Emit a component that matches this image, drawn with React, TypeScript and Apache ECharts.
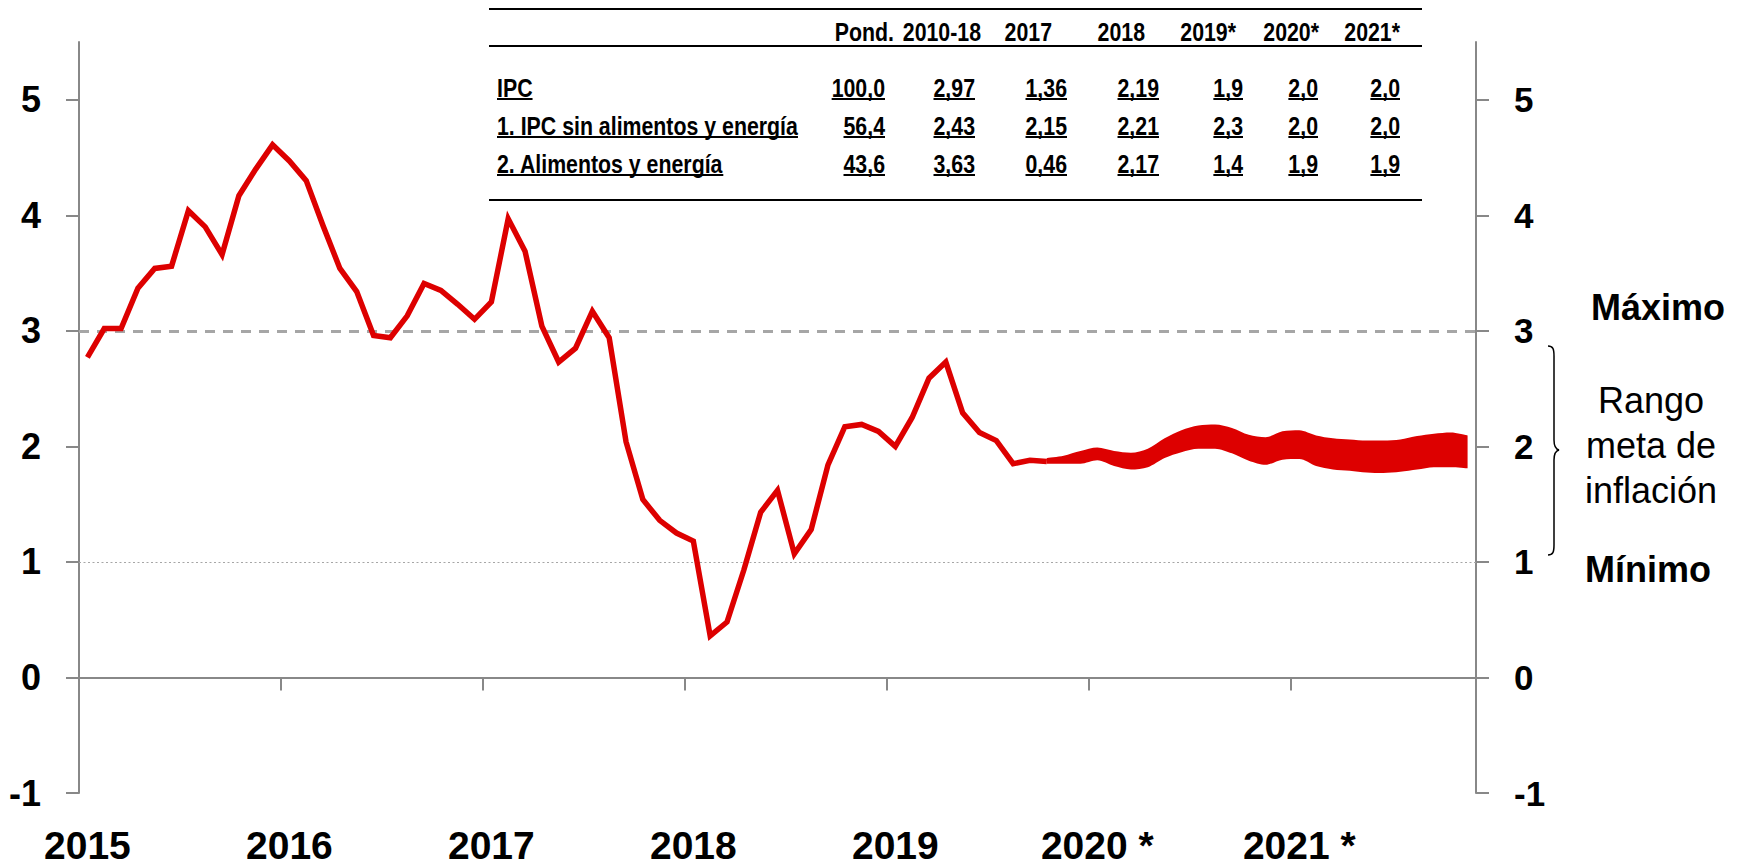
import { useEffect, useRef } from 'react';
import * as echarts from 'echarts';

const ARIAL = "'Liberation Sans', Arial, Helvetica, sans-serif";
const NARROW_SCALE = 0.82; // Arial Narrow ≈ Arial scaled horizontally

// ---------- data ----------
// monthly categories: Feb 2015 .. Dec 2021
const START_YEAR = 2015;
const START_MONTH = 2;
const N_MONTHS = 83;
const months: string[] = [];
for (let i = 0; i < N_MONTHS; i++) {
  const m = START_MONTH - 1 + i;
  months.push(`${START_YEAR + Math.floor(m / 12)}-${String((m % 12) + 1).padStart(2, '0')}`);
}

const yearLabels = ['2015', '2016', '2017', '2018', '2019', '2020 *', '2021 *'];

// IPC, 12-month % change, Feb 2015 .. Nov 2019
const ipcActual = [
  2.77, 3.02, 3.02, 3.37, 3.54, 3.56, 4.04, 3.90, 3.66, 4.17, 4.40,
  4.61, 4.47, 4.30, 3.91, 3.54, 3.34, 2.96, 2.94, 3.13, 3.41, 3.35, 3.23,
  3.10, 3.25, 3.97, 3.69, 3.04, 2.73, 2.85, 3.17, 2.94, 2.04, 1.54, 1.36,
  1.25, 1.18, 0.36, 0.48, 0.93, 1.43, 1.62, 1.07, 1.28, 1.84, 2.17, 2.19,
  2.13, 2.00, 2.25, 2.59, 2.73, 2.29, 2.12, 2.05, 1.85, 1.88, 1.87,
];

// forecast band, Nov 2019 .. Dec 2021
const bandUpper = [
  1.90, 1.92, 1.96, 1.99, 1.96, 1.945, 1.98, 2.07, 2.14, 2.18, 2.19, 2.16, 2.10, 2.08,
  2.13, 2.14, 2.095, 2.07, 2.06, 2.05, 2.05, 2.06, 2.09, 2.11, 2.12, 2.095,
];
const bandLower = [
  1.85, 1.85, 1.85, 1.88, 1.83, 1.80, 1.82, 1.90, 1.95, 1.98, 1.98, 1.94, 1.875, 1.84,
  1.885, 1.89, 1.83, 1.80, 1.79, 1.775, 1.77, 1.78, 1.80, 1.82, 1.82, 1.81,
];
const BAND_START = 57;

const yTickValues = [-1, 0, 1, 2, 3, 4, 5];
const targetMax = 3;
const targetMin = 1;

const tableHeaders = ['Pond.', '2010-18', '2017', '2018', '2019*', '2020*', '2021*'];
const tableRowLabels = ['IPC', '1. IPC sin alimentos y energía', '2. Alimentos y energía'];
const tableValues = [
  ['100,0', '2,97', '1,36', '2,19', '1,9', '2,0', '2,0'],
  ['56,4', '2,43', '2,15', '2,21', '2,3', '2,0', '2,0'],
  ['43,6', '3,63', '0,46', '2,17', '1,4', '1,9', '1,9'],
];
const rangeLabels = { max: 'Máximo', min: 'Mínimo', mid: ['Rango', 'meta de', 'inflación'] };

// ---------- layout ----------
const RED = '#DD0000';
const AXIS = '#888888';
const headerRight = [894, 981, 1052, 1145, 1236, 1319, 1400];
const valueRight = [885, 975, 1067, 1159, 1243, 1318, 1400];
const rowLabelX = 497;
const headerY = 32;
const rowY = [88, 126, 164];
const TABLE_FONT = 26;

let measureCtx: CanvasRenderingContext2D | null = null;
function textWidth(t: string, font: string) {
  if (!measureCtx) measureCtx = document.createElement('canvas').getContext('2d');
  if (!measureCtx) return t.length * 12;
  measureCtx.font = font;
  return measureCtx.measureText(t).width;
}

echarts.graphic.registerShape(
  'brace',
  echarts.graphic.extendPath(
    'M0 0 C5 0 6 3 6 10 L6 94 C6 100 7 103 11 104 C7 105 6 108 6 114 L6 199 C6 206 5 209 0 209',
    {}
  )
);

function buildGraphic() {
  const els: any[] = [];
  const tf = `bold ${TABLE_FONT}px ${ARIAL}`;
  const rule = (y: number) => ({
    type: 'line',
    shape: { x1: 489, y1: y, x2: 1422, y2: y },
    style: { stroke: '#000', lineWidth: 2 },
  });
  els.push(rule(9), rule(46), rule(200));
  const txt = (x: number, y: number, text: string, align: string, font: string, sx = 1) => ({
    type: 'text',
    x,
    y,
    scaleX: sx,
    style: {
      text,
      font,
      fill: '#000',
      align,
      textAlign: align,
      verticalAlign: 'middle',
      textVerticalAlign: 'middle',
    },
  });
  const underline = (x1: number, x2: number, y: number) => ({
    type: 'line',
    shape: { x1, y1: y, x2, y2: y },
    style: { stroke: '#000', lineWidth: 2 },
  });
  const w = (t: string) => textWidth(t, tf) * NARROW_SCALE;
  tableHeaders.forEach((h, j) => els.push(txt(headerRight[j], headerY, h, 'right', tf, NARROW_SCALE)));
  tableRowLabels.forEach((lab, r) => {
    const y = rowY[r];
    els.push(txt(rowLabelX, y, lab, 'left', tf, NARROW_SCALE));
    els.push(underline(rowLabelX, rowLabelX + w(lab), y + 11));
    tableValues[r].forEach((v, j) => {
      els.push(txt(valueRight[j], y, v, 'right', tf, NARROW_SCALE));
      els.push(underline(valueRight[j] - w(v), valueRight[j], y + 11));
    });
  });
  // right annotation
  els.push(txt(1658, 307, rangeLabels.max, 'center', `bold 36px ${ARIAL}`));
  rangeLabels.mid.forEach((t, i) => els.push(txt(1651, 400 + i * 45, t, 'center', `36px ${ARIAL}`)));
  els.push(txt(1648, 569, rangeLabels.min, 'center', `bold 36px ${ARIAL}`));
  els.push({
    type: 'brace',
    x: 1548,
    y: 346,
    style: { stroke: '#000', fill: 'none', lineWidth: 1.5 },
  });
  return els;
}

export default function App() {
  const ref = useRef<HTMLDivElement>(null);
  useEffect(() => {
    if (!ref.current) return;
    const chart = echarts.init(ref.current, undefined, { renderer: 'svg' });
    const pad = (n: number) => new Array(n).fill(null);
    const ipcData = ipcActual.concat(pad(N_MONTHS - ipcActual.length));
    const lowerData = pad(BAND_START).concat(bandLower);
    const diffData = pad(BAND_START).concat(bandUpper.map((u, i) => +(u - bandLower[i]).toFixed(3)));

    const yAxisBase = {
      type: 'value',
      min: -1,
      max: 5.5,
      interval: 1,
      splitLine: { show: false },
      axisLine: { show: true, lineStyle: { color: AXIS, width: 2 } },
      axisTick: { show: true, length: 13, customValues: yTickValues, lineStyle: { color: AXIS, width: 2 } },
    };
    const fmtY = (v: number) => (Number.isInteger(v) ? String(v) : '');

    chart.setOption({
      animation: false,
      grid: { left: 79, right: 266, top: 42, bottom: 72 },
      xAxis: [
        {
          type: 'category',
          data: months,
          boundaryGap: true,
          position: 'top',
          axisLine: { show: true, onZero: true, lineStyle: { color: AXIS, width: 2 } },
          axisTick: { show: true, interval: 11, inside: true, length: 13, lineStyle: { color: AXIS, width: 2 } },
          axisLabel: { show: false },
          splitLine: { show: false },
        },
        {
          type: 'category',
          data: months,
          boundaryGap: true,
          position: 'bottom',
          axisLine: { show: false, onZero: false },
          axisTick: { show: false },
          axisLabel: {
            interval: 11,
            formatter: (_v: string, idx: number) => yearLabels[Math.floor(idx / 12)] ?? '',
            fontSize: 39,
            lineHeight: 30,
            fontWeight: 'bold',
            fontFamily: ARIAL,
            color: '#000',
            margin: 37,
          },
          splitLine: { show: false },
        },
      ],
      yAxis: [
        {
          ...yAxisBase,
          position: 'left',
          axisLabel: {
            customValues: yTickValues,
            formatter: fmtY,
            fontSize: 36,
            fontWeight: 'bold',
            fontFamily: ARIAL,
            color: '#000',
            margin: 38,
          },
        },
        {
          ...yAxisBase,
          position: 'right',
          axisLabel: {
            customValues: yTickValues,
            formatter: fmtY,
            fontSize: 35,
            fontWeight: 'bold',
            fontFamily: ARIAL,
            color: '#000',
            margin: 38,
          },
        },
      ],
      series: [
        {
          type: 'line',
          data: [],
          xAxisIndex: 0,
          yAxisIndex: 0,
          silent: true,
          z: 1,
          markLine: {
            silent: true,
            symbol: 'none',
            z: 1,
            label: { show: false },
            data: [
              { yAxis: targetMax, lineStyle: { color: '#A6A6A6', width: 3, type: [10, 8] } },
              { yAxis: targetMin, lineStyle: { color: '#A6A6A6', width: 1, type: [2, 2.5] } },
            ],
          },
        },
        {
          type: 'line',
          name: 'lower',
          stack: 'band',
          data: lowerData,
          xAxisIndex: 0,
          yAxisIndex: 0,
          symbol: 'none',
          smooth: 0.3,
          lineStyle: { width: 0, opacity: 0 },
          z: 3,
        },
        {
          type: 'line',
          name: 'band',
          stack: 'band',
          data: diffData,
          xAxisIndex: 0,
          yAxisIndex: 0,
          symbol: 'none',
          smooth: 0.3,
          lineStyle: { width: 0, opacity: 0 },
          areaStyle: { color: RED, opacity: 1 },
          z: 3,
        },
        {
          type: 'line',
          name: 'IPC',
          data: ipcData,
          xAxisIndex: 0,
          yAxisIndex: 0,
          symbol: 'none',
          lineStyle: { color: RED, width: 5.5, join: 'miter' },
          z: 4,
        },
      ],
      graphic: { elements: buildGraphic() },
    });
    return () => chart.dispose();
  }, []);
  return (
    <div
      ref={ref}
      style={{ position: 'absolute', left: 0, top: 0, width: 1742, height: 865, background: '#fff' }}
    />
  );
}
